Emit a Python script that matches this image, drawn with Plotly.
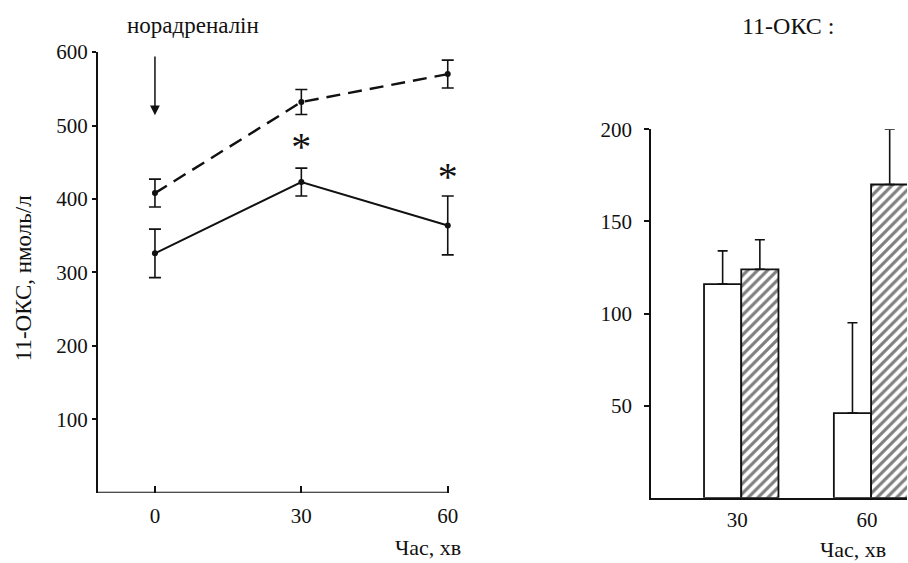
import plotly.graph_objects as go

# ---- data: left panel (line chart) ----
time_min = [0, 30, 60]
control_mean = [326, 423, 364]          # solid line
control_err = [33, 19, 40]
norad_mean = [408, 532, 570]            # dashed line
norad_err = [19, 17, 19]
star_x = [30, 60]
star_y = [466, 426]
left_yticks = [100, 200, 300, 400, 500, 600]

# ---- data: right panel (bars) ----
bar_times = [30, 60]
white_vals = [116, 46]
white_err = [18, 49]
hatched_vals = [124, 170]
hatched_err = [16, 30]
right_yticks = [50, 100, 150, 200]

FONT = "Liberation Serif"
INK = "#111111"

fig = go.Figure()

fig.add_trace(go.Scatter(
    x=time_min, y=control_mean, mode="lines+markers",
    line=dict(color=INK, width=2),
    marker=dict(size=6, color=INK),
    error_y=dict(type="data", array=control_err, color=INK, thickness=1.6, width=6),
    xaxis="x", yaxis="y", showlegend=False, cliponaxis=False))

fig.add_trace(go.Scatter(
    x=time_min, y=norad_mean, mode="lines+markers",
    line=dict(color=INK, width=2.4, dash="14px,8px"),
    marker=dict(size=6, color=INK),
    error_y=dict(type="data", array=norad_err, color=INK, thickness=1.6, width=6),
    xaxis="x", yaxis="y", showlegend=False, cliponaxis=False))

fig.add_trace(go.Scatter(
    x=star_x, y=star_y, mode="text", text=["*"] * len(star_x),
    textfont=dict(family=FONT, size=40, color=INK),
    xaxis="x", yaxis="y", showlegend=False, cliponaxis=False))

bw = 8.6
fig.add_trace(go.Bar(
    x=bar_times, y=white_vals, width=bw, offset=-bw,
    marker=dict(color="white", line=dict(color=INK, width=1.8)),
    error_y=dict(type="data", array=white_err, arrayminus=[0] * len(white_err),
                 symmetric=False, color=INK, thickness=1.6, width=5),
    xaxis="x2", yaxis="y2", showlegend=False))

fig.add_trace(go.Bar(
    x=bar_times, y=hatched_vals, width=bw, offset=0,
    marker=dict(color="white", line=dict(color=INK, width=1.8),
                pattern=dict(shape="/", fgcolor="black", bgcolor="white", size=7, solidity=0.45)),
    error_y=dict(type="data", array=hatched_err, arrayminus=[0] * len(hatched_err),
                 symmetric=False, color=INK, thickness=1.6, width=5),
    xaxis="x2", yaxis="y2", showlegend=False))

tickfont = dict(family=FONT, size=21, color=INK)

X_LEFT = -11.7
fig.update_layout(
    width=908, height=563,
    margin=dict(l=0, r=0, t=0, b=0),
    paper_bgcolor="white", plot_bgcolor="white",
    barmode="overlay",
    xaxis=dict(domain=[0.1079, 0.5044], range=[X_LEFT, 62], tickvals=time_min,
               ticks="inside", ticklen=7, tickwidth=1.5, tickcolor=INK,
               showline=False, showgrid=False, ticklabelstandoff=8,
               zeroline=False, tickfont=tickfont, anchor="y"),
    yaxis=dict(domain=[0.1273, 0.9273], range=[0, 600], tickvals=left_yticks,
               ticks="outside", ticklen=4, tickwidth=1.5, tickcolor=INK,
               showline=True, linecolor=INK, linewidth=2, showgrid=False,
               zeroline=False, tickfont=tickfont, anchor="x"),
    xaxis2=dict(domain=[0.718, 1.0], range=[9.2, 68.3], tickvals=bar_times,
                ticks="", showline=True, linecolor=INK, linewidth=2.2, showgrid=False,
                zeroline=False, tickfont=tickfont, anchor="y2", ticklabelstandoff=2,
                ticklabelshift=-4),
    yaxis2=dict(domain=[0.1182, 0.7873], range=[0, 200], tickvals=right_yticks,
                ticks="outside", ticklen=5, tickwidth=1.5, tickcolor=INK,
                showline=True, linecolor=INK, linewidth=2, showgrid=False,
                zeroline=False, tickfont=tickfont, anchor="x2", ticklabelstandoff=8),
    shapes=[dict(type="line", xref="x", yref="y", x0=X_LEFT, x1=time_min[-1], y0=0, y1=0,
                 line=dict(color=INK, width=2.2))],
)

annotations = [
    dict(text="норадреналін", x=0.2126, y=0.976, xref="paper", yref="paper",
         xanchor="center", yanchor="middle", showarrow=False,
         font=dict(family=FONT, size=23, color=INK)),
    dict(text="11-ОКС, нмоль/л", x=0.026, y=0.516, xref="paper", yref="paper",
         xanchor="center", yanchor="middle", textangle=-90, showarrow=False,
         font=dict(family=FONT, size=23, color=INK)),
    dict(text="Час, хв", x=0.472, y=0.028, xref="paper", yref="paper",
         xanchor="center", yanchor="middle", showarrow=False,
         font=dict(family=FONT, size=22, color=INK)),
    dict(text="Час, хв", x=0.94, y=0.024, xref="paper", yref="paper",
         xanchor="center", yanchor="middle", showarrow=False,
         font=dict(family=FONT, size=22, color=INK)),
    dict(text="11-ОКС :", x=0.869, y=0.974, xref="paper", yref="paper",
         xanchor="center", yanchor="middle", showarrow=False,
         font=dict(family=FONT, size=24, color=INK)),
    dict(text="", x=0, y=514, xref="x", yref="y", ax=0, ay=596, axref="x", ayref="y",
         showarrow=True, arrowhead=2, arrowsize=1.3, arrowwidth=1.5, arrowcolor=INK),
]
fig.update_layout(annotations=annotations)

fig.write_html("out.html")
